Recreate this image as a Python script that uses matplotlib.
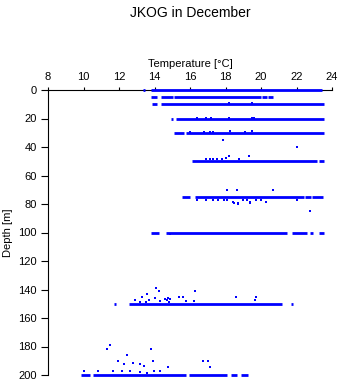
import matplotlib
matplotlib.use("Agg")
import matplotlib.pyplot as plt

plt.rcParams['font.family'] = ['Liberation Sans', 'DejaVu Sans']

# depth levels with near-continuous sampling: (depth, [(t_start, t_end), ...])
seg_depths = [0, 5, 10, 20, 30, 50, 75, 100, 150, 200]
seg_ranges = [
    [(13.43, 13.43), (13.85, 23.4)],
    [(13.85, 14.1), (14.4, 15.0), (15.15, 19.95), (20.1, 20.3), (20.45, 20.6)],
    [(13.9, 14.1), (14.45, 23.5)],
    [(15.0, 15.0), (15.25, 23.5)],
    [(15.15, 15.6), (15.85, 23.5)],
    [(16.2, 23.1), (23.3, 23.5)],
    [(15.6, 15.95), (16.35, 22.35), (22.55, 22.75), (22.95, 23.45)],
    [(13.85, 14.2), (14.7, 21.4), (21.8, 22.55), (22.8, 22.85), (23.3, 23.5)],
    [(11.78, 11.78), (12.6, 21.15), (21.75, 21.75)],
    [(9.9, 10.3), (10.6, 15.7), (16.0, 18.05), (18.35, 18.6), (18.95, 19.2)],
]

# scattered individual measurements
pt_temp = [18.2, 19.5, 16.4, 16.9, 17.2, 18.2, 19.5, 19.6,
           16.0, 16.8, 17.1, 17.3, 18.25, 19.1, 19.5,
           17.87, 22.0, 18.2, 19.35, 16.9, 17.1, 17.3, 17.5, 17.8, 18.0, 18.75,
           18.07, 18.64, 20.66,
           16.4, 16.9, 17.3, 17.6, 17.9, 18.1, 18.4, 18.7, 19.0, 19.2, 19.4, 19.7, 20.0, 20.3, 22.0,
           18.5, 18.7, 19.4, 22.75,
           14.9,
           14.11, 14.27, 13.56, 13.28, 14.03, 14.78, 15.38, 15.62, 16.3, 18.57, 19.7, 19.65,
           14.6, 14.7, 14.8, 14.9, 12.9, 13.7, 15.8, 16.2, 13.2, 13.5, 14.3,
           11.32, 11.47, 11.97, 12.47, 12.28, 12.8, 13.18, 13.4, 13.78, 13.93, 16.74, 16.99, 17.12,
           14.76, 13.98, 14.3, 10.0, 10.84, 11.68, 12.15, 12.6, 13.2, 13.6]
pt_depth = [9.3, 9.3, 19.3, 19.3, 19.3, 19.3, 19.3, 19.3,
            29.3, 29.3, 29.3, 29.3, 29.0, 29.3, 29.0,
            35.4, 40.2, 46.3, 46.3, 48.6, 48.6, 48.6, 48.6, 48.6, 48.0, 48.6,
            70.1, 70.1, 70.1,
            77.5, 77.5, 77.5, 77.0, 77.5, 77.0, 78.5, 79.5, 77.5, 77.0, 78.5, 77.5, 77.0, 78.5, 77.5,
            79.5, 80.0, 79.0, 85.0,
            101.0,
            139.0, 141.0, 143.5, 145.6, 146.3, 146.3, 145.6, 145.6, 141.0, 145.6, 145.6, 147.5,
            146.5, 147.5, 148.5, 146.5, 147.5, 147.5, 148.0, 148.0, 149.0, 148.5, 148.0,
            181.8, 179.0, 190.0, 186.0, 192.4, 191.4, 192.6, 194.0, 181.8, 190.0, 190.0, 190.0, 194.7,
            194.7, 197.0, 197.0, 197.0, 197.0, 197.0, 197.0, 197.0, 198.0, 198.5]

temp_ticks = [8, 10, 12, 14, 16, 18, 20, 22, 24]
depth_ticks = [0, 20, 40, 60, 80, 100, 120, 140, 160, 180, 200]

blue = (0, 0, 1)

fig = plt.figure(figsize=(3.41, 3.84), dpi=100)
ax = fig.add_axes([48 / 341, 1 - 375 / 384, 284 / 341, 285 / 384])

for d, segs in zip(seg_depths, seg_ranges):
    for t0, t1 in segs:
        ax.plot([t0 - 0.06, t1 + 0.06], [d, d], color=blue, lw=2.0,
                solid_capstyle='butt', clip_on=False, zorder=3)

ax.plot(pt_temp, pt_depth, 's', color=blue, ms=2.0, mew=0, clip_on=False, zorder=3)

ax.set_xlim(8, 24)
ax.set_ylim(200, 0)
ax.set_xticks(temp_ticks)
ax.set_yticks(depth_ticks)
ax.xaxis.tick_top()
ax.xaxis.set_label_position('top')
ax.tick_params(axis='x', length=2.5, width=0.8, labelsize=8, pad=3)
ax.tick_params(axis='y', length=5, width=0.8, labelsize=8, pad=3)
for side in ['right', 'bottom']:
    ax.spines[side].set_visible(False)
for side in ['left', 'top']:
    ax.spines[side].set_linewidth(0.8)

ax.set_xlabel('Temperature [°C]', fontsize=8, labelpad=4)
ax.set_ylabel('Depth [m]', fontsize=8)
ax.yaxis.set_label_coords(-35 / 284, 0.5)
fig.text(190 / 341, 1 - 13 / 384, 'JKOG in December', ha='center', va='center', fontsize=10)

fig.savefig('out.png', dpi=100)
